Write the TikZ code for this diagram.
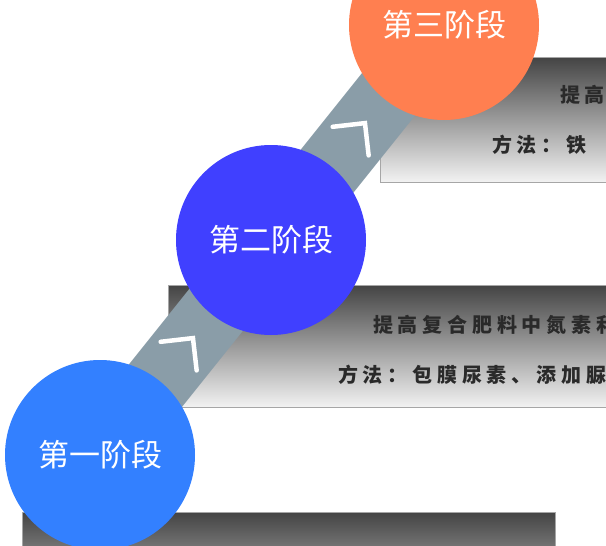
\documentclass[tikz,border=0pt]{standalone}
\usepackage{fontspec}
\newfontfamily\cjk{Noto Sans CJK SC}
\newfontfamily\cjkwide[LetterSpace=24]{Noto Sans CJK SC}
\usetikzlibrary{positioning, calc}

\definecolor{stageone}{HTML}{3380FF}
\definecolor{stagetwo}{HTML}{4040FF}
\definecolor{stagethree}{HTML}{FF7F50}
\definecolor{bandgray}{HTML}{8A9DA8}
\definecolor{boxtop}{HTML}{444444}
\definecolor{boxbottom}{HTML}{F2F2F2}
\definecolor{boxtext}{HTML}{2A2A2A}

\tikzset{
    stage/.style={circle, minimum size=190, inner sep=0, text=white,
        font=\cjk\fontsize{31}{31}\selectfont},
    infobox/.style={rectangle, draw=black!35, line width=0.8,
        top color=boxtop, bottom color=boxbottom, inner sep=0},
    infotext/.style={anchor=west, inner sep=0, text=boxtext,
        font=\cjkwide\bfseries\fontsize{20}{20}\selectfont},
    chevron/.style={draw=white, line width=4.5, line cap=round}
}

\begin{document}
\begin{tikzpicture}[x=1pt, y=-1pt]
    \useasboundingbox (0,0) rectangle (606,546);
    \clip (0,0) rectangle (606,546);
    \fill[white] (0,0) rectangle (606,546);

    % --- Boxes ---
    \node[infobox, minimum width=320, minimum height=125] (box3) at (540, 119.5) {};
    \node[infobox, minimum width=532, minimum height=122] (box2) at (434, 346) {};
    \node[infobox, minimum width=533, minimum height=128] (box1) at (288.5, 576) {};

    % box texts (cut at the right edge)
    \node[infotext] (t3a) at (560, 95) {提高};
    \node[infotext] (t3b) at (492, 145) {方法：铁};
    \node[infotext] (t2a) at (373, 325) {提高复合肥料中氮素利};
    \node[infotext] (t2b) at (338, 375) {方法：包膜尿素、添加脲};

    % --- Stages ---
    \coordinate (c1) at (100, 455);
    \coordinate (c2) at (271, 240);
    \coordinate (c3) at (444, 25);

    % band behind the circles
    \draw[bandgray, line width=68] (c1) -- (c3);

    % chevrons on the band
    \foreach \a/\b in {c1/c2, c2/c3}
        \draw[chevron, shift={($(\a)!0.5!(\b)$)}, rotate=51.5]
            (-11,-23) -- (12,0) -- (-11,23);

    \node[stage, fill=stageone] (s1) at (c1) {第一阶段};
    \node[stage, fill=stagetwo] (s2) at (c2) {第二阶段};
    \node[stage, fill=stagethree] (s3) at (c3) {第三阶段};

\end{tikzpicture}
\end{document}
